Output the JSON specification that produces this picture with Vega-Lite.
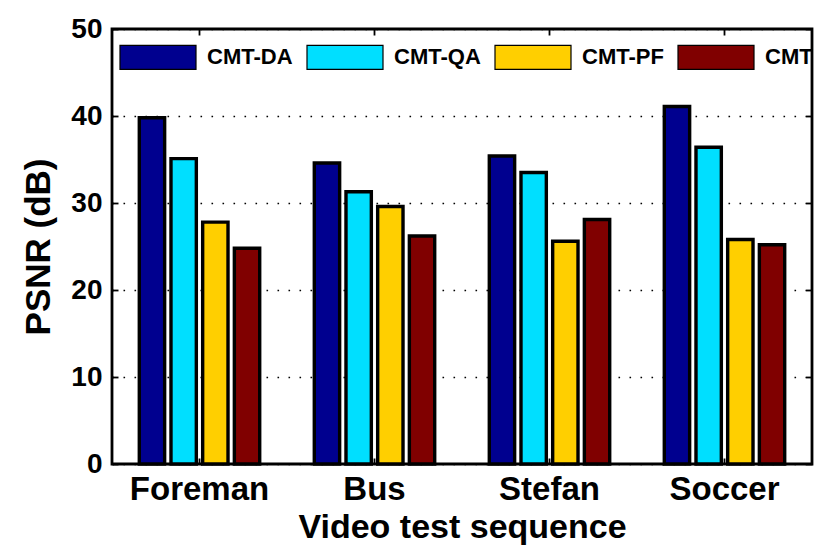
{
  "$schema": "https://vega.github.io/schema/vega-lite/v6.json",
  "width": 700,
  "height": 435,
  "autosize": {"type": "none"},
  "padding": {"left": 112, "top": 29, "right": 18, "bottom": 91},
  "background": "white",
  "config": {
    "font": "Liberation Sans",
    "view": {"stroke": "black", "strokeWidth": 2.8},
    "axis": {
      "labelFont": "Liberation Sans",
      "labelFontWeight": "bold",
      "labelColor": "black",
      "titleFont": "Liberation Sans",
      "titleFontWeight": "bold",
      "titleColor": "black",
      "domain": false,
      "tickColor": "black",
      "tickWidth": 1.8
    }
  },
  "data": {
    "values": [
      {"seq": "Foreman", "method": "CMT-DA", "psnr": 39.8},
      {"seq": "Foreman", "method": "CMT-QA", "psnr": 35.1},
      {"seq": "Foreman", "method": "CMT-PF", "psnr": 27.8},
      {"seq": "Foreman", "method": "CMT", "psnr": 24.8},
      {"seq": "Bus", "method": "CMT-DA", "psnr": 34.6},
      {"seq": "Bus", "method": "CMT-QA", "psnr": 31.3},
      {"seq": "Bus", "method": "CMT-PF", "psnr": 29.6},
      {"seq": "Bus", "method": "CMT", "psnr": 26.2},
      {"seq": "Stefan", "method": "CMT-DA", "psnr": 35.4},
      {"seq": "Stefan", "method": "CMT-QA", "psnr": 33.5},
      {"seq": "Stefan", "method": "CMT-PF", "psnr": 25.6},
      {"seq": "Stefan", "method": "CMT", "psnr": 28.1},
      {"seq": "Soccer", "method": "CMT-DA", "psnr": 41.1},
      {"seq": "Soccer", "method": "CMT-QA", "psnr": 36.4},
      {"seq": "Soccer", "method": "CMT-PF", "psnr": 25.8},
      {"seq": "Soccer", "method": "CMT", "psnr": 25.2}
    ]
  },
  "layer": [
    {
      "mark": {"type": "bar", "stroke": "black", "strokeWidth": 3.4, "opacity": 1},
      "encoding": {
        "x": {
          "field": "seq", "type": "nominal",
          "sort": ["Foreman", "Bus", "Stefan", "Soccer"],
          "scale": {"paddingInner": 0.312, "paddingOuter": 0.156},
          "axis": {
            "orient": "bottom",
            "title": "Video test sequence",
            "titleFontSize": 34,
            "titlePadding": 4,
            "labelFontSize": 33,
            "labelAngle": 0,
            "labelPadding": 15,
            "tickSize": -6,
            "grid": false
          }
        },
        "xOffset": {
          "field": "method", "type": "nominal",
          "sort": ["CMT-DA", "CMT-QA", "CMT-PF", "CMT"],
          "scale": {"paddingInner": 0.2, "paddingOuter": 0}
        },
        "y": {
          "field": "psnr", "type": "quantitative",
          "scale": {"domain": [0, 50], "nice": false},
          "axis": {
            "orient": "left",
            "title": "PSNR (dB)",
            "titleFontSize": 35,
            "titlePadding": 14,
            "labelFontSize": 28,
            "labelPadding": 16,
            "tickSize": -6,
            "values": [0, 10, 20, 30, 40, 50],
            "grid": true,
            "gridColor": "black",
            "gridWidth": 1.6,
            "gridDash": [1.6, 9.4],
            "gridOpacity": 1
          }
        },
        "color": {
          "field": "method", "type": "nominal",
          "sort": ["CMT-DA", "CMT-QA", "CMT-PF", "CMT"],
          "scale": {
            "domain": ["CMT-DA", "CMT-QA", "CMT-PF", "CMT"],
            "range": ["#00008F", "#00DFFF", "#FFCF00", "#800000"]
          },
          "legend": {
            "orient": "none",
            "legendX": 7,
            "legendY": -11,
            "direction": "horizontal",
            "columns": 4,
            "title": null,
            "padding": 0,
            "symbolType": "M-1,-0.3158H1V0.3158H-1Z",
            "symbolSize": 5776,
            "symbolStrokeColor": "black",
            "symbolStrokeWidth": 1.2,
            "symbolOpacity": 1,
            "labelFont": "Liberation Sans",
            "labelFontSize": 22,
            "labelFontWeight": "bold",
            "labelColor": "black",
            "labelOffset": 10,
            "columnPadding": 11
          }
        }
      }
    },
    {
      "mark": {"type": "bar", "opacity": 0},
      "encoding": {
        "x": {
          "field": "seq", "type": "nominal",
          "sort": ["Foreman", "Bus", "Stefan", "Soccer"],
          "axis": {"orient": "top", "labels": false, "title": null, "tickSize": -6, "grid": false}
        },
        "y": {
          "field": "psnr", "type": "quantitative",
          "axis": {"orient": "right", "labels": false, "title": null, "tickSize": -6, "grid": false, "values": [0, 10, 20, 30, 40, 50]}
        }
      }
    }
  ]
}
